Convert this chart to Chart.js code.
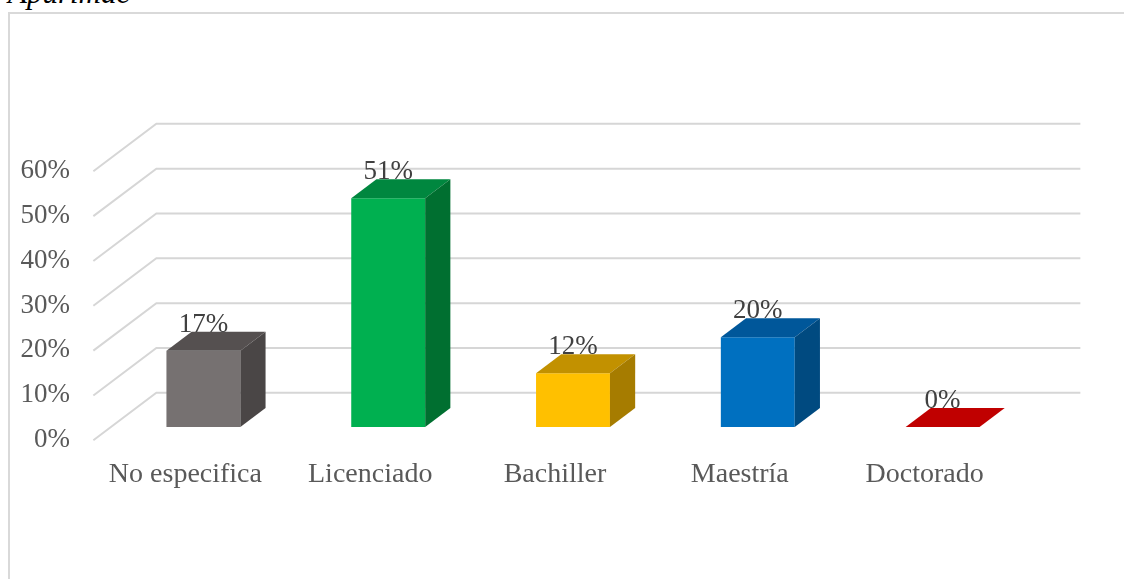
<!DOCTYPE html>
<html>
<head>
<meta charset="utf-8">
<script src="https://cdn.jsdelivr.net/npm/chart.js@4/dist/chart.umd.min.js"></script>
<style>
  html, body { margin: 0; padding: 0; background: #ffffff; }
  #wrap { position: relative; width: 1124px; height: 579px; overflow: hidden; }
  #frame {
    position: absolute; left: 8px; top: 12px; width: 1300px; height: 800px;
    border-left: 2px solid #d9d9d9; border-top: 2px solid #d9d9d9;
  }
  #heading {
    position: absolute; left: 8px; top: -25px; margin: 0;
    font-family: "Liberation Serif", "Times New Roman", serif;
    font-style: italic; font-size: 31px; line-height: 36px; color: #000;
    white-space: nowrap;
  }
  canvas { position: absolute; left: 0; top: 0; }
</style>
</head>
<body>
<div id="wrap">
  <div id="frame"></div>
  <p id="heading">Apurímac</p>
  <canvas id="chart" width="1124" height="579"></canvas>
</div>
<script>
// Grado académico: porcentaje por categoría
const categories = ['No especifica', 'Licenciado', 'Bachiller', 'Maestría', 'Doctorado'];
const shares = [17, 51, 12, 20, 0];
const axisMax = 60;
const axisStep = 10;

// Colores de cada cara de las barras
const frontColors = ['#767171', '#00b050', '#ffc000', '#0070c0', '#c00000'];
const topColors   = ['#555050', '#00873f', '#c29100', '#00579a', '#c00000'];
const sideColors  = ['#4a4646', '#006f30', '#a67c00', '#004a80', '#a00000'];

const SERIF = '"Liberation Serif", "Times New Roman", serif';

// Perspectiva: vector de profundidad completa del piso y posición de las barras en él
const DEPTH = { dx: 63, dy: -47.5 };
const BAR_PLANE = 0.28;   // fracción de profundidad donde está la cara frontal
const BAR_DEPTH = 0.40;   // fracción de profundidad que ocupa cada barra

function shift(x, y, d) {
  return [x + (d - BAR_PLANE) * DEPTH.dx, y + (d - BAR_PLANE) * DEPTH.dy];
}

const depthPlugin = {
  id: 'depth3d',
  beforeDatasetsDraw(chart) {
    const { ctx, chartArea, scales } = chart;
    const ys = scales.y;
    ctx.save();
    ctx.strokeStyle = '#d6d6d6';
    ctx.lineWidth = 2;
    ctx.lineJoin = 'miter';
    ys.ticks.forEach(t => {
      const py = ys.getPixelForValue(t.value);
      const a = shift(chartArea.left, py, 0);
      const b = shift(chartArea.left, py, 1);
      const c = shift(chartArea.right, py, 1);
      ctx.beginPath();
      ctx.moveTo(a[0], a[1]);
      ctx.lineTo(b[0], b[1]);
      ctx.lineTo(c[0], c[1]);
      ctx.stroke();
    });
    ctx.restore();
  },
  afterDatasetsDraw(chart) {
    const { ctx } = chart;
    const meta = chart.getDatasetMeta(0);
    const ddx = BAR_DEPTH * DEPTH.dx;
    const ddy = BAR_DEPTH * DEPTH.dy;
    ctx.save();
    meta.data.forEach((bar, i) => {
      const p = bar.getProps(['x', 'y', 'base', 'width'], true);
      const l = p.x - p.width / 2;
      const r = p.x + p.width / 2;
      const top = Math.min(p.y, p.base);
      const base = Math.max(p.y, p.base);
      // cara superior
      ctx.fillStyle = topColors[i];
      ctx.beginPath();
      ctx.moveTo(l, top);
      ctx.lineTo(r, top);
      ctx.lineTo(r + ddx, top + ddy);
      ctx.lineTo(l + ddx, top + ddy);
      ctx.closePath();
      ctx.fill();
      // cara lateral
      if (base - top > 0.5) {
        ctx.fillStyle = sideColors[i];
        ctx.beginPath();
        ctx.moveTo(r, top);
        ctx.lineTo(r + ddx, top + ddy);
        ctx.lineTo(r + ddx, base + ddy);
        ctx.lineTo(r, base);
        ctx.closePath();
        ctx.fill();
      }
    });
    // etiquetas de valor
    ctx.fillStyle = '#404040';
    ctx.font = '27px ' + SERIF;
    ctx.textAlign = 'center';
    ctx.textBaseline = 'middle';
    meta.data.forEach((bar, i) => {
      const p = bar.getProps(['x', 'y', 'base'], true);
      const top = Math.min(p.y, p.base);
      ctx.fillText(shares[i] + '%', p.x, top - 26);
    });
    ctx.restore();
  }
};

new Chart(document.getElementById('chart'), {
  type: 'bar',
  data: {
    labels: categories,
    datasets: [{
      data: shares,
      backgroundColor: frontColors,
      borderWidth: 0,
      barPercentage: 0.4,
      categoryPercentage: 1.0
    }]
  },
  options: {
    responsive: false,
    devicePixelRatio: 1,
    animation: false,
    events: [],
    layout: { padding: { left: 0, top: 158, right: 89, bottom: 0 } },
    plugins: {
      legend: { display: false },
      title: { display: false },
      tooltip: { enabled: false }
    },
    scales: {
      x: {
        offset: true,
        grid: { display: false, drawTicks: false },
        border: { display: false },
        ticks: {
          color: '#595959',
          font: { family: SERIF, size: 28 },
          padding: 31,
          labelOffset: -18,
          maxRotation: 0,
          autoSkip: false
        },
        afterFit(scale) { scale.height = 152; }
      },
      y: {
        min: 0,
        max: axisMax,
        grid: { display: false, drawTicks: false },
        border: { display: false },
        ticks: {
          stepSize: axisStep,
          color: '#595959',
          font: { family: SERIF, size: 27 },
          padding: 41,
          labelOffset: 13,
          callback: v => v + '%'
        },
        afterFit(scale) { scale.width = 111; }
      }
    }
  },
  plugins: [depthPlugin]
});
</script>
</body>
</html>
